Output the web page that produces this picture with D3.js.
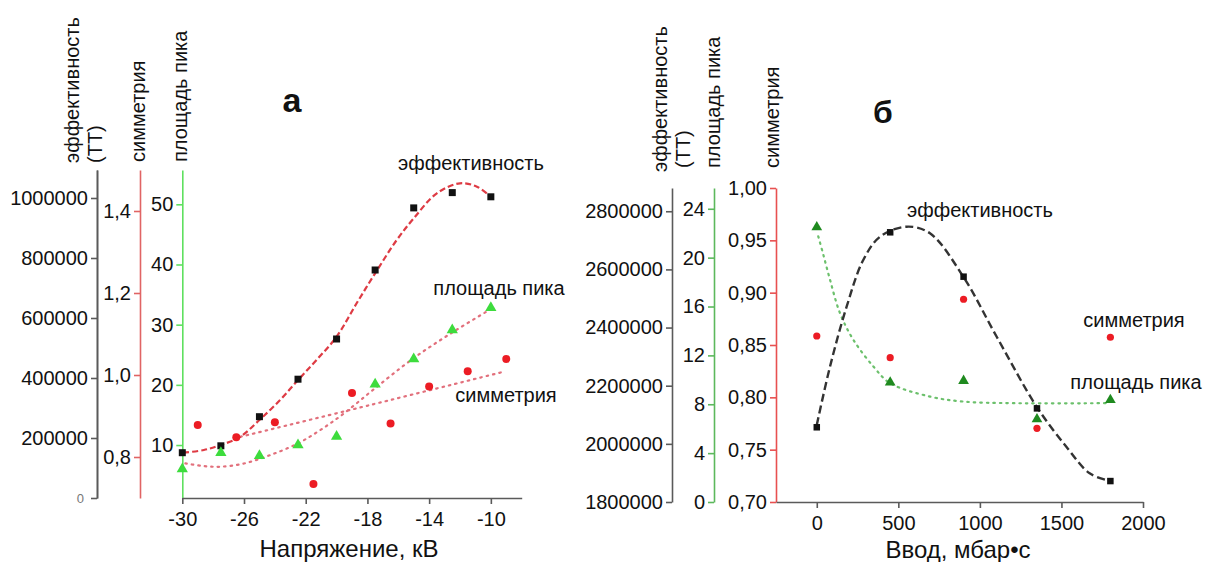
<!DOCTYPE html>
<html><head><meta charset="utf-8">
<script src="https://cdn.jsdelivr.net/npm/d3@7/dist/d3.min.js"></script>
<style>
body{margin:0;background:#fff;}
svg text{font-family:"Liberation Sans",Arial,sans-serif;}
</style>
</head><body>
<svg id="c" width="1206" height="562"></svg>
<script>
// ---------------- DATA ----------------
// Panel а : x = voltage (kV)
const voltageA = [-30, -27.5, -25, -22.5, -20, -17.5, -15, -12.5, -10];
const effA = [151000, 174000, 271000, 396000, 530000, 760000, 967000, 1018000, 1004000];
const areaA = [6.0, 8.7, 8.2, 10.0, 11.4, 20.1, 24.3, 29.1, 32.8];
const symVoltageA = [-29, -26.5, -24, -21.5, -19, -16.5, -14, -11.5, -9];
const symA = [0.878, 0.848, 0.885, 0.734, 0.956, 0.882, 0.972, 1.009, 1.039];
// fit curves
const effFitXA = [-29.94, -28.6, -27.5, -26.25, -25, -23.66, -22.5, -21.3, -20, -18.7, -17.5, -16.1, -15, -13.5, -12, -10.9, -10];
const effFitYA = [151000, 160000, 176700, 204000, 260000, 326700, 393000, 460000, 537700, 649000, 749000, 860000, 932000, 1015700, 1049000, 1037700, 1004000];
const areaFitXA = [-29.8, -28.6, -27.55, -26, -24.3, -22.5, -21.05, -19.5, -17.5, -15, -12.5, -10];
const areaFitYA = [6.94, 6.5, 6.39, 6.94, 8.33, 10.28, 12.5, 15.3, 19.45, 24.45, 28.7, 32.6];
const symFitXA = [-26.64, -17.8, -9.16];
const symFitYA = [0.8456, 0.927, 1.008];
// tick labels panel а
const xTicksA = [-30, -26, -22, -18, -14, -10];
const effTicksA = [200000, 400000, 600000, 800000, 1000000];
const symTicksA = [0.8, 1.0, 1.2, 1.4];
const areaTicksA = [10, 20, 30, 40, 50];

// Panel б : x = injection (mbar·s)
const injB = [0, 450, 900, 1350, 1800];
const effB = [2057000, 2727600, 2575000, 2122000, 1872000];
const areaB = [22.5, 9.78, 9.92, 6.78, 8.36];
const symB = [0.8586, 0.8379, 0.8937, 0.7704, 0.8574];
const effFitXB = [0, 81, 183, 285, 388, 551, 694, 898, 1103, 1348, 1530, 1673, 1798];
const effFitYB = [2064800, 2265400, 2471800, 2632400, 2712500, 2746900, 2724200, 2575000, 2368500, 2127800, 1990000, 1898700, 1872000];
const areaFitXB = [9, 40, 81, 142, 224, 347, 449, 694, 898, 1205, 1798];
const areaFitYB = [21.75, 20.25, 18.2, 15.47, 13.28, 11.09, 9.73, 8.63, 8.22, 8.09, 8.09];
const xTicksB = [0, 500, 1000, 1500, 2000];
const effTicksB = [1800000, 2000000, 2200000, 2400000, 2600000, 2800000];
const areaTicksB = [0, 4, 8, 12, 16, 20, 24];
const symTicksB = [0.70, 0.75, 0.80, 0.85, 0.90, 0.95, 1.00];

// ---------------- DRAW ----------------
const svg = d3.select("#c");
const FS = 20;
const comma = (d, n) => d.toFixed(n).replace(".", ",");
const zip = (a, b) => a.map((v, i) => [v, b[i]]);

function yAxis(x, scale, major, minor, color, fmt, labelColor) {
  const g = svg.append("g").attr("transform", `translate(${x},0)`);
  g.call(d3.axisLeft(scale).tickValues(minor).tickSize(4).tickFormat("").tickSizeOuter(0));
  g.call(d3.axisLeft(scale).tickValues(major).tickSize(6).tickPadding(3).tickFormat(fmt).tickSizeOuter(0));
  g.selectAll("path,line").attr("stroke", color).attr("stroke-width", 1.6);
  g.selectAll("text").attr("font-size", FS).attr("fill", labelColor || "#111")
    .attr("font-family", "Liberation Sans, Arial, sans-serif");
  return g;
}
function xAxis(y, scale, major, minor, color) {
  const g = svg.append("g").attr("transform", `translate(0,${y})`);
  g.call(d3.axisBottom(scale).tickValues(minor).tickSize(5).tickFormat("").tickSizeOuter(0));
  g.call(d3.axisBottom(scale).tickValues(major).tickSize(6).tickPadding(8).tickFormat(d => d).tickSizeOuter(0));
  g.selectAll("path,line").attr("stroke", color).attr("stroke-width", 1.6);
  g.selectAll("text").attr("font-size", FS).attr("fill", "#111")
    .attr("font-family", "Liberation Sans, Arial, sans-serif");
  return g;
}
function vtitle(x, y, t) {
  svg.append("text").attr("transform", `translate(${x},${y}) rotate(-90)`)
    .attr("font-size", FS).attr("fill", "#111").text(t);
}
function label(x, y, t, fs) {
  svg.append("text").attr("x", x).attr("y", y).attr("text-anchor", "middle")
    .attr("font-size", fs || FS).attr("fill", "#111").text(t);
}
function squares(xs, ys, sx, sy, s, color) {
  svg.append("g").selectAll("rect").data(zip(xs, ys)).join("rect")
    .attr("x", d => sx(d[0]) - s / 2).attr("y", d => sy(d[1]) - s / 2)
    .attr("width", s).attr("height", s).attr("fill", color);
}
function circles(xs, ys, sx, sy, r, color) {
  svg.append("g").selectAll("circle").data(zip(xs, ys)).join("circle")
    .attr("cx", d => sx(d[0])).attr("cy", d => sy(d[1])).attr("r", r).attr("fill", color);
}
function triangles(xs, ys, sx, sy, size, color) {
  const sym = d3.symbol().type(d3.symbolTriangle).size(size);
  svg.append("g").selectAll("path").data(zip(xs, ys)).join("path")
    .attr("transform", d => `translate(${sx(d[0])},${sy(d[1])})`).attr("d", sym).attr("fill", color);
}
function curve(xs, ys, sx, sy, color, w, dash, cap) {
  const line = d3.line().x(d => sx(d[0])).y(d => sy(d[1])).curve(d3.curveCatmullRom.alpha(0.5));
  svg.append("path").attr("d", line(zip(xs, ys))).attr("fill", "none")
    .attr("stroke", color).attr("stroke-width", w).attr("stroke-dasharray", dash)
    .attr("stroke-linecap", cap || "butt");
}

// ---- Panel а ----
const xA = d3.scaleLinear().domain([-30, -8]).range([182.3, 521.7]);
const yEffA = d3.scaleLinear().domain([0, 1093333]).range([498, 170]);
const ySymA = d3.scaleLinear().domain([0.7, 1.5]).range([498, 170]);
const yAreaA = d3.scaleLinear().domain([1.2, 55.7]).range([498, 170]);

yAxis(97, yEffA, effTicksA, d3.range(100000, 1093333, 100000), "#5a5a5a", d => d);
// "0" label on black axis (small, grey)
const zg = yAxis(97, yEffA, [0], [], "#5a5a5a", d => d, "#777");
zg.selectAll("text").attr("font-size", 13).attr("dx", -4);
yAxis(140, ySymA, symTicksA, [0.9, 1.1, 1.3, 1.5], "#e06464", d => comma(d, 1));
yAxis(182.3, yAreaA, areaTicksA, [5, 15, 25, 35, 45, 55], "#5fe05f", d => d);
xAxis(498, xA, xTicksA, d3.range(-30, -7.9, 1), "#5a5a5a");

curve(areaFitXA, areaFitYA, xA, yAreaA, "#e2707c", 2.2, "1.5 5", "round");
curve(symFitXA, symFitYA, xA, ySymA, "#e2707c", 2.2, "1.5 5", "round");
curve(effFitXA, effFitYA, xA, yEffA, "#de3b44", 2.2, "6 3");
squares(voltageA, effA, xA, yEffA, 7, "#111");
triangles(voltageA, areaA, xA, yAreaA, 55, "#3ddc3d");
circles(symVoltageA, symA, xA, ySymA, 4, "#ec1c24");

vtitle(79, 163, "эффективность");
vtitle(102, 163, "(ТТ)");
vtitle(145, 162, "симметрия");
vtitle(187, 162, "площадь пика");
label(471, 170, "эффективность");
label(499, 295, "площадь пика");
label(506, 402, "симметрия");
label(349, 557, "Напряжение, кВ", 24);
svg.append("text").attr("x", 292).attr("y", 112).attr("text-anchor", "middle")
  .attr("font-size", 34).attr("font-weight", "bold").attr("fill", "#111").text("а");

// ---- Panel б ----
const xB = d3.scaleLinear().domain([-250, 2000]).range([776, 1143]);
const yEffB = d3.scaleLinear().domain([1800000, 2880000]).range([502, 188]);
const yAreaB = d3.scaleLinear().domain([0, 25.7]).range([502, 188]);
const ySymB = d3.scaleLinear().domain([0.7, 1.0]).range([502, 188]);

yAxis(672, yEffB, effTicksB, d3.range(1900000, 2880000, 200000), "#5a5a5a", d => d);
yAxis(714, yAreaB, areaTicksB, [2, 6, 10, 14, 18, 22], "#5cb85c", d => d);
yAxis(776, ySymB, symTicksB, [0.725, 0.775, 0.825, 0.875, 0.925, 0.975], "#e85050", d => comma(d, 2));
xAxis(502, xB, xTicksB, [250, 750, 1250, 1750], "#5a5a5a");

curve(areaFitXB, areaFitYB, xB, yAreaB, "#6cc06c", 2.2, "1.5 5", "round");
curve(effFitXB, effFitYB, xB, yEffB, "#333", 2.4, "8 4");
squares(injB, effB, xB, yEffB, 6.5, "#111");
triangles(injB, areaB, xB, yAreaB, 50, "#1f8a1f");
circles(injB, symB, xB, ySymB, 3.6, "#ec1c24");

vtitle(667, 172, "эффективность");
vtitle(690, 168, "(ТТ)");
vtitle(720, 168, "площадь пика");
vtitle(779, 168, "симметрия");
label(980, 217, "эффективность");
label(1134, 327, "симметрия");
label(1136, 389, "площадь пика");
label(958, 558, "Ввод, мбар•с", 24);
svg.append("text").attr("x", 883).attr("y", 123).attr("text-anchor", "middle")
  .attr("font-size", 32).attr("font-weight", "bold").attr("fill", "#111").text("б");
</script>
</body></html>
